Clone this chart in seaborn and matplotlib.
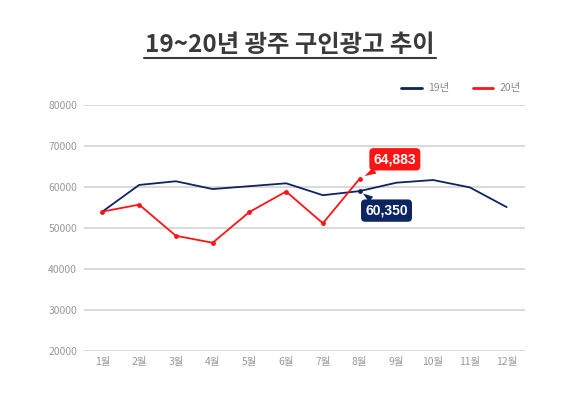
import matplotlib
matplotlib.use("Agg")
import matplotlib.pyplot as plt
from matplotlib.lines import Line2D
import seaborn as sns
import pandas as pd

months = ["1월", "2월", "3월", "4월", "5월", "6월", "7월", "8월", "9월", "10월", "11월", "12월"]
y19 = [54000, 60500, 61400, 59500, 60200, 60900, 58000, 59000, 61050, 61700, 59900, 55100]
y20 = [54000, 55700, 48100, 46400, 53900, 58900, 51150, 62000]
yticks = [20000, 30000, 40000, 50000, 60000, 70000, 80000]
label19 = "60,350"
label20 = "64,883"
title = "19~20년 광주 구인광고 추이"

sns.set_theme(style="white")
plt.rcParams['font.family'] = ['Noto Sans CJK KR', 'DejaVu Sans']

navy = "#0c2462"
red = "#ff1414"

df19 = pd.DataFrame({"x": list(range(len(y19))), "v": y19})
df20 = pd.DataFrame({"x": list(range(len(y20))), "v": y20})

fig = plt.figure(figsize=(5.8, 3.93), dpi=100)
ax = fig.add_axes([84/580, 1-351/393, (525-84)/580, (351-105)/393])

sns.lineplot(data=df19, x="x", y="v", ax=ax, color=navy, linewidth=1.3, legend=False)
sns.lineplot(data=df20, x="x", y="v", ax=ax, color=red, linewidth=1.3, legend=False,
             marker="o", markersize=3.5, markeredgewidth=0)
ax.plot([7], [y19[7]], marker="o", markersize=3.5, color=navy, markeredgewidth=0)

ax.set_xlim(-0.5, 11.5)
ax.set_ylim(20000, 80000)
ax.set_yticks(yticks)
ax.set_yticklabels([str(t) for t in yticks])
ax.set_xticks(range(len(months)))
ax.set_xticklabels(months)
ax.grid(axis="y", color="#d0d0d0", linewidth=1.1)
ax.set_axisbelow(True)
for s in ax.spines.values():
    s.set_visible(False)
ax.tick_params(axis="both", length=0, labelsize=7.5, labelcolor="#999999")
ax.tick_params(axis="y", pad=5)
ax.tick_params(axis="x", pad=4)
ax.set_xlabel("")
ax.set_ylabel("")

handles = [Line2D([], [], color=navy, linewidth=2), Line2D([], [], color=red, linewidth=2)]
leg = ax.legend(handles, ["19년", "20년"], loc="lower right", bbox_to_anchor=(1.0, 1.03), ncol=2,
                frameon=False, fontsize=7.5, handlelength=2.0, columnspacing=2.2,
                handletextpad=0.6, borderaxespad=0)
for t in leg.get_texts():
    t.set_color("#888888")

ax.annotate(label20, xy=(7, y20[7]), xytext=(10, 9), textcoords="offset points",
            color="white", fontsize=10, fontweight="bold", family="Liberation Sans",
            ha="left", va="bottom",
            bbox=dict(boxstyle="round,pad=0.3,rounding_size=0.3", fc=red, ec="none"),
            arrowprops=dict(arrowstyle="wedge,tail_width=0.5,shrink_factor=0.5", fc=red, ec="none",
                            shrinkA=0, shrinkB=4))
ax.annotate(label19, xy=(7, y19[7]), xytext=(4, -9), textcoords="offset points",
            color="white", fontsize=10, fontweight="bold", family="Liberation Sans",
            ha="left", va="top",
            bbox=dict(boxstyle="round,pad=0.3,rounding_size=0.3", fc=navy, ec="none"),
            arrowprops=dict(arrowstyle="wedge,tail_width=0.5,shrink_factor=0.5", fc=navy, ec="none",
                            shrinkA=0, shrinkB=3))

t = fig.text(0.5, 1-45/393, title, ha="center", va="center", fontsize=17.5,
             fontweight="black", color="#3a3a3a")
fig.canvas.draw()
bb = t.get_window_extent()
fig.add_artist(plt.Line2D([bb.x0/580 - 0.002, bb.x1/580 + 0.002], [1-58/393, 1-58/393],
                          color="#3a3a3a", linewidth=1.5, transform=fig.transFigure))

fig.savefig("out.png", dpi=100, facecolor="white")
